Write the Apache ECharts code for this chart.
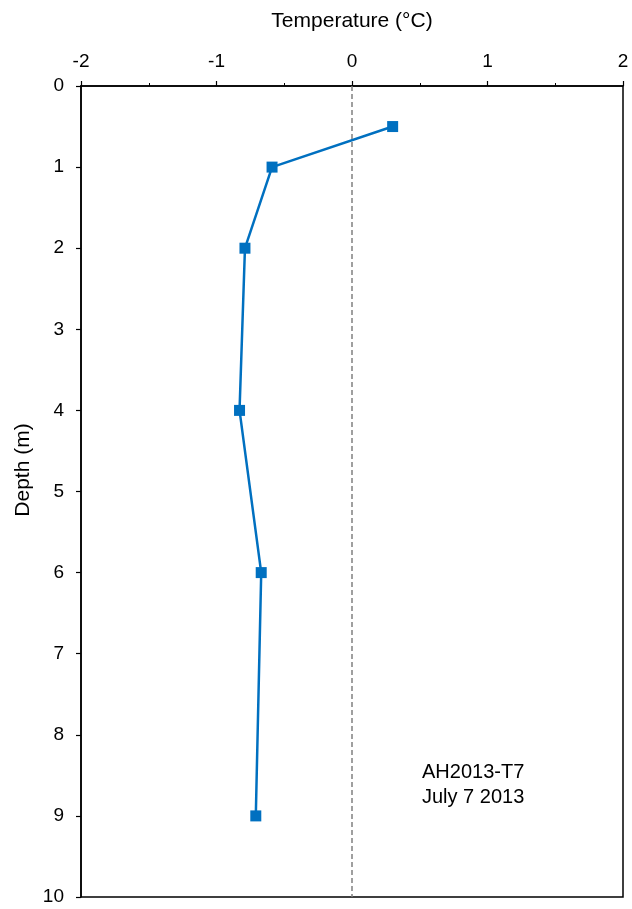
<!DOCTYPE html>
<html>
<head>
<meta charset="utf-8">
<script src="https://cdn.jsdelivr.net/npm/echarts@6/dist/echarts.min.js"></script>
<style>
  html, body { margin: 0; padding: 0; background: #fff; }
  #chart { width: 632px; height: 909px; }
</style>
</head>
<body>
<div id="chart"></div>
<script>
// Ground temperature profile, borehole AH2013-T7
const depths = [0.5, 1, 2, 4, 6, 9];            // m
const temperatures = [0.30, -0.59, -0.79, -0.83, -0.67, -0.71]; // °C
const tempTicks = [-2, -1, 0, 1, 2];
const depthTicks = [0, 1, 2, 3, 4, 5, 6, 7, 8, 9, 10];
const siteLabel = 'AH2013-T7';
const dateLabel = 'July 7 2013';

const FONT = '"Liberation Sans", Arial, sans-serif';
const chart = echarts.init(document.getElementById('chart'));

chart.setOption({
  animation: false,
  backgroundColor: '#fff',
  textStyle: { fontFamily: FONT },
  grid: {
    left: 81, right: 9, top: 86, bottom: 12,
    show: true, borderColor: '#000', borderWidth: 1.5, backgroundColor: 'transparent'
  },
  xAxis: {
    type: 'value',
    position: 'top',
    min: tempTicks[0],
    max: tempTicks[tempTicks.length - 1],
    interval: 1,
    name: 'Temperature (°C)',
    nameLocation: 'middle',
    nameGap: 54,
    nameTextStyle: { fontSize: 21, color: '#000', fontFamily: FONT },
    axisLine: { show: true, onZero: false, lineStyle: { color: '#000', width: 1.5 } },
    axisTick: { show: true, inside: false, length: 5, lineStyle: { color: '#000', width: 1.2 } },
    minorTick: { show: true, splitNumber: 2, length: 3, lineStyle: { color: '#000', width: 1 } },
    axisLabel: { fontSize: 19, color: '#000', margin: 15, fontFamily: FONT },
    splitLine: { show: false }
  },
  yAxis: {
    type: 'value',
    inverse: true,
    min: depthTicks[0],
    max: depthTicks[depthTicks.length - 1],
    interval: 1,
    axisLine: { show: true, onZero: false, lineStyle: { color: '#000', width: 1.5 } },
    axisTick: { show: true, inside: false, length: 5, lineStyle: { color: '#000', width: 1.2 } },
    axisLabel: { fontSize: 19, color: '#000', margin: 17, fontFamily: FONT },
    splitLine: { show: false }
  },
  graphic: [
    {
      type: 'text',
      x: 23, y: 470,
      rotation: Math.PI / 2,
      style: {
        text: 'Depth (m)', fontSize: 21, fill: '#000', fontFamily: FONT,
        textAlign: 'center', textVerticalAlign: 'middle'
      }
    },
    {
      type: 'text',
      left: 422, top: 760,
      style: {
        text: siteLabel + '\n' + dateLabel,
        fontSize: 20, lineHeight: 25, fill: '#000', fontFamily: FONT
      }
    }
  ],
  series: [
    {
      type: 'line',
      data: temperatures.map((t, i) => [t, depths[i]]),
      symbol: 'rect',
      symbolSize: 11,
      lineStyle: { color: '#0070C0', width: 2.5 },
      itemStyle: { color: '#0070C0' },
      markLine: {
        silent: true,
        symbol: 'none',
        label: { show: false },
        lineStyle: { color: '#808080', type: [5, 3], width: 1.5 },
        data: [{ xAxis: 0 }]
      },
      z: 3
    }
  ]
});
</script>
</body>
</html>
